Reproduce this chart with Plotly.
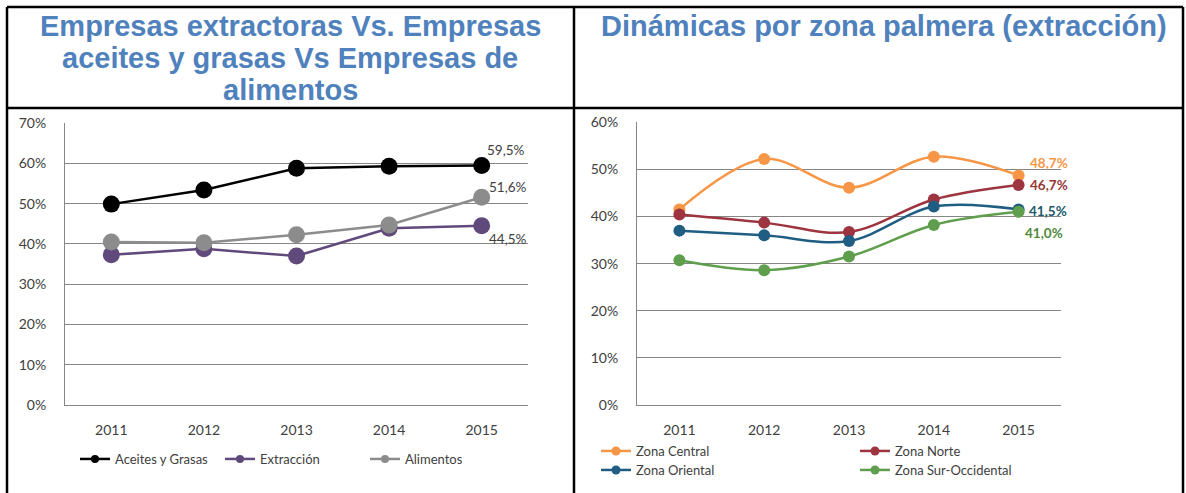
import plotly.graph_objects as go

W, H = 1186, 493

years = ["2011", "2012", "2013", "2014", "2015"]

# Left chart
aceites = [0.499, 0.534, 0.588, 0.593, 0.595]
extraccion = [0.373, 0.388, 0.370, 0.439, 0.445]
alimentos = [0.405, 0.403, 0.423, 0.447, 0.516]
label_aceites = "59,5%"
label_extraccion = "44,5%"
label_alimentos = "51,6%"

# Right chart
z_central = [0.415, 0.522, 0.461, 0.527, 0.487]
z_norte = [0.404, 0.387, 0.367, 0.436, 0.467]
z_oriental = [0.370, 0.360, 0.348, 0.421, 0.415]
z_sur = [0.307, 0.286, 0.315, 0.382, 0.410]
right_labels = ["48,7%", "46,7%", "41,5%", "41,0%"]

title_left = ["Empresas extractoras Vs. Empresas", "aceites y grasas Vs Empresas de", "alimentos"]
title_right = "Dinámicas por zona palmera (extracción)"

def px(x):
    return x / W

def py(y):
    return 1 - y / H

BASEFONT = "Lato, Open Sans, sans-serif"
TICKFONT = dict(family=BASEFONT, size=14, color="#404040")
GRID = "#868686"

fig = go.Figure()

left_series = [
    ("Aceites y Grasas", aceites, "#000000", label_aceites, (3, 15)),
    ("Extracción", extraccion, "#604a7b", label_extraccion, (5, -13)),
    ("Alimentos", alimentos, "#8c8c8c", label_alimentos, (5, 10)),
]
for name, vals, c, lab, sh in left_series:
    fig.add_trace(go.Scatter(
        x=years, y=vals, name=name, mode="lines+markers",
        line=dict(color=c, width=2.5),
        marker=dict(color=c, size=17, line=dict(width=0)),
        xaxis="x", yaxis="y", showlegend=False,
    ))
# legend entries (small markers, as in the reference legend)
for name, vals, c, lab, sh in left_series:
    fig.add_trace(go.Scatter(
        x=[None], y=[None], name=name, mode="lines+markers",
        line=dict(color=c, width=2.5), marker=dict(color=c, size=8),
        xaxis="x", yaxis="y", legend="legend",
    ))

right_series = [
    ("Zona Central", z_central, "#f79646", "legend2"),
    ("Zona Norte", z_norte, "#9e3440", "legend2"),
    ("Zona Oriental", z_oriental, "#1f5d82", "legend3"),
    ("Zona Sur-Occidental", z_sur, "#5f9e4c", "legend3"),
]
for name, vals, c, lg in right_series:
    fig.add_trace(go.Scatter(
        x=years, y=vals, name=name, mode="lines+markers",
        line=dict(color=c, width=2.5, shape="spline", smoothing=1.0),
        marker=dict(color=c, size=12),
        xaxis="x2", yaxis="y2", showlegend=False,
    ))
for name, vals, c, lg in right_series:
    fig.add_trace(go.Scatter(
        x=[None], y=[None], name=name, mode="lines+markers",
        line=dict(color=c, width=2.5), marker=dict(color=c, size=9),
        xaxis="x2", yaxis="y2", legend=lg,
    ))

last = len(years) - 1  # category index of last year
annotations = []
for name, vals, c, lab, (dx, dy) in left_series:
    annotations.append(dict(
        x=last, y=vals[-1], xref="x", yref="y", text=lab, showarrow=False,
        xanchor="left", yanchor="middle", xshift=dx, yshift=dy,
        font=dict(family=BASEFONT, size=13.5, color="#404040"),
    ))
r_shift = [(9, 12), (9, 0), (8, -2), (4, -21)]
r_label_colors = ["#f79646", "#953735", "#215968", "#4f8a3a"]
for (name, vals, c, lg), lab, (dx, dy), lcol in zip(right_series, right_labels, r_shift, r_label_colors):
    annotations.append(dict(
        x=last, y=vals[-1], xref="x2", yref="y2", text="<b>" + lab + "</b>", showarrow=False,
        xanchor="left", yanchor="middle", xshift=dx, yshift=dy,
        font=dict(family=BASEFONT, size=13.5, color=lcol),
    ))

TITLE_FONT = dict(family="Liberation Sans, Arial, sans-serif", size=29, color="#4f81bd")
for line, yc in zip(title_left, [26, 58, 90]):
    annotations.append(dict(
        x=px(290), y=py(yc), xref="paper", yref="paper", text="<b>" + line + "</b>",
        showarrow=False, xanchor="center", yanchor="middle", font=TITLE_FONT,
    ))
annotations.append(dict(
    x=px(884), y=py(26), xref="paper", yref="paper", text="<b>" + title_right + "</b>",
    showarrow=False, xanchor="center", yanchor="middle", font=TITLE_FONT,
))

BW = 2.5
shapes = [
    dict(type="line", xref="paper", yref="paper", x0=px(7), x1=px(1183), y0=py(7), y1=py(7), line=dict(color="black", width=BW)),
    dict(type="line", xref="paper", yref="paper", x0=px(7), x1=px(1183), y0=py(108), y1=py(108), line=dict(color="black", width=BW)),
    dict(type="line", xref="paper", yref="paper", x0=px(7), x1=px(7), y0=py(7), y1=-0.02, line=dict(color="black", width=BW)),
    dict(type="line", xref="paper", yref="paper", x0=px(574), x1=px(574), y0=py(7), y1=-0.02, line=dict(color="black", width=BW)),
    dict(type="line", xref="paper", yref="paper", x0=px(1183), x1=px(1183), y0=py(7), y1=-0.02, line=dict(color="black", width=BW)),
]

def xaxis_cfg(d0, d1, anchor):
    return dict(
        domain=[px(d0), px(d1)], anchor=anchor, type="category", range=[-0.5, 4.5],
        showgrid=False, showline=True, linecolor=GRID, linewidth=1, automargin=False,
        ticks="", tickfont=TICKFONT, ticklabelstandoff=12, zeroline=False, fixedrange=True,
    )

def yaxis_cfg(top, rmax, anchor):
    return dict(
        domain=[py(405), py(top)], anchor=anchor, range=[0, rmax + 0.0005], dtick=0.1,
        tickformat=".0%", showgrid=True, gridcolor=GRID, gridwidth=1, automargin=False,
        showline=True, linecolor=GRID, linewidth=1, zeroline=False,
        ticks="", tickfont=TICKFONT, ticklabelstandoff=15, fixedrange=True,
    )

LEGFONT = dict(family=BASEFONT, size=13, color="#404040")
fig.update_layout(
    width=W, height=H, margin=dict(l=0, r=0, t=0, b=0, autoexpand=False),
    paper_bgcolor="white", plot_bgcolor="white",
    xaxis=xaxis_cfg(65, 528, "y"),
    yaxis=yaxis_cfg(123, 0.7, "x"),
    xaxis2=xaxis_cfg(637, 1061, "y2"),
    yaxis2=yaxis_cfg(122, 0.6, "x2"),
    legend=dict(orientation="h", x=px(75), y=py(459), xanchor="left", yanchor="middle",
                font=LEGFONT, bgcolor="rgba(0,0,0,0)", itemwidth=30, tracegroupgap=0,
                entrywidth=100, entrywidthmode="pixels"),
    legend2=dict(orientation="h", x=px(596), y=py(451), xanchor="left", yanchor="middle",
                 font=LEGFONT, bgcolor="rgba(0,0,0,0)", entrywidth=214, entrywidthmode="pixels"),
    legend3=dict(orientation="h", x=px(596), y=py(470), xanchor="left", yanchor="middle",
                 font=LEGFONT, bgcolor="rgba(0,0,0,0)", entrywidth=214, entrywidthmode="pixels"),
    annotations=annotations, shapes=shapes,
)

fig.write_html(
    "out.html",
    config={"displayModeBar": False},
    post_script="document.body.style.margin='0';document.body.style.overflow='hidden';",
)
